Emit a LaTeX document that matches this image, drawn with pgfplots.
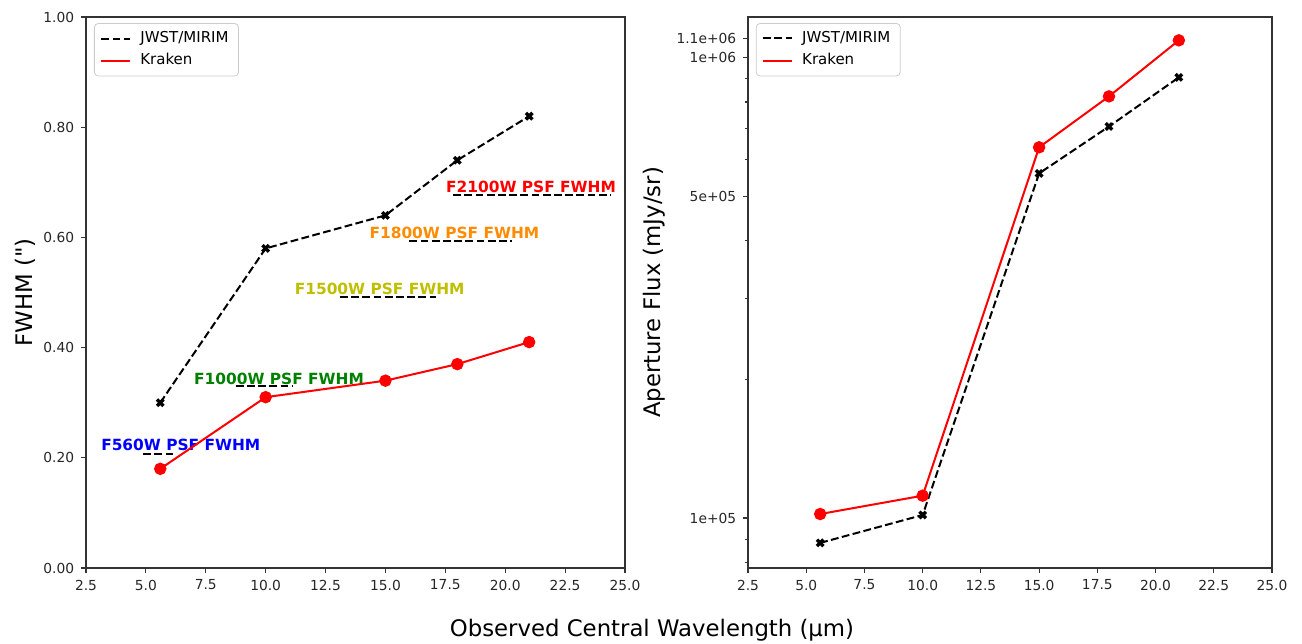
\documentclass[border=0pt]{standalone}
\usepackage{fontspec}
\setmainfont{DejaVu Sans}
\usepackage{pgfplots}
\pgfplotsset{compat=1.18}
\definecolor{mplorange}{HTML}{FF8C00}
\definecolor{mplolive}{rgb}{0.75,0.75,0}
\definecolor{mplgreen}{rgb}{0,0.5,0}

\pgfplotsset{
  common/.style={
    scale only axis,
    height=275.5pt,
    xmin=2.5, xmax=25,
    xtick={2.5,5,7.5,10,12.5,15,17.5,20,22.5,25},
    xticklabels={2.5,5.0,7.5,10.0,12.5,15.0,17.5,20.0,22.5,25.0},
    tick align=outside,
    tick pos=left,
    major tick length=2.4pt,
    minor tick length=1.4pt,
    tick style={black!80, line width=0.55pt},
    axis line style={black!80, line width=0.55pt},
    ticklabel style={font=\fontsize{6.9}{8}\selectfont, text=black!85},
    /pgf/number format/assume math mode=true,
    label style={font=\fontsize{11.4}{13}\selectfont},
    legend style={at={(0.0148,0.989)}, anchor=north west, draw=black!20,
      rounded corners=2pt, font=\fontsize{7.5}{9}\selectfont,
      /tikz/every odd column/.append style={column sep=2.5pt}},
    legend cell align=left,
    legend image code/.code={\draw[#1] (0pt,0pt) -- (14.5pt,0pt);},
  },
  jwst/.style={black, line width=1pt, dash pattern=on 3.9pt off 1.7pt,
    mark=x, mark size=2.3pt, mark options={solid, line width=1.7pt}},
  kraken/.style={red, line width=1pt, mark=*, mark size=2.6pt,
    mark options={solid, fill=red, draw=red}},
  psf/.style={black, line width=1pt, dash pattern=on 3.9pt off 1.7pt, forget plot},
}
\tikzset{ann/.style={anchor=west, inner sep=0pt, font=\bfseries\fontsize{7.7}{9.2}\selectfont}}

\begin{document}
\begin{tikzpicture}
\begin{axis}[common, at={(43pt,37.5pt)}, anchor=south west, width=269.5pt,
  ymin=0, ymax=1,
  ytick={0,0.2,0.4,0.6,0.8,1},
  yticklabels={0.00,0.20,0.40,0.60,0.80,1.00},
  ylabel={FWHM (\textquotedbl)},
  ylabel style={at={(axis description cs:-0.112,0.5)}, anchor=center}]
\addlegendimage{black, line width=1pt, dash pattern=on 3.9pt off 1.7pt}
\addlegendentry{JWST/MIRIM}
\addlegendimage{red, line width=1pt}
\addlegendentry{Kraken}
\addplot[psf] coordinates {(4.89,0.207) (6.29,0.207)};
\addplot[psf] coordinates {(8.75,0.331) (11.09,0.331)};
\addplot[psf] coordinates {(13.10,0.492) (17.10,0.492)};
\addplot[psf] coordinates {(16.00,0.594) (20.28,0.594)};
\addplot[psf] coordinates {(17.83,0.677) (24.41,0.677)};
\node[ann, text=blue] at (axis cs:3.12,0.223) {F560W PSF FWHM};
\node[ann, text=mplgreen] at (axis cs:7.0,0.344) {F1000W PSF FWHM};
\node[ann, text=mplolive] at (axis cs:11.2,0.506) {F1500W PSF FWHM};
\node[ann, text=mplorange] at (axis cs:14.32,0.609) {F1800W PSF FWHM};
\node[ann, text=red] at (axis cs:17.52,0.692) {F2100W PSF FWHM};
\addplot[jwst, forget plot] coordinates {(5.6,0.30) (10,0.58) (15,0.64) (18,0.74) (21,0.82)};
\addplot[kraken, forget plot] coordinates {(5.6,0.18) (10,0.31) (15,0.34) (18,0.37) (21,0.41)};
\end{axis}

\begin{axis}[common, at={(374pt,37.5pt)}, anchor=south west, width=262pt,
  ymode=log, ymin=7.79e4, ymax=1.224e6,
  ytick={1e5,5e5,1e6,1.1e6},
  yticklabels={1e+05,5e+05,1e+06,1.1e+06},
  minor ytick={8e4,9e4,2e5,3e5,4e5,6e5,7e5,8e5,9e5},
  ylabel={Aperture Flux (mJy/sr)},
  ylabel style={at={(axis description cs:-0.179,0.5)}, anchor=center}]
\addlegendimage{black, line width=1pt, dash pattern=on 3.9pt off 1.7pt}
\addlegendentry{JWST/MIRIM}
\addlegendimage{red, line width=1pt}
\addlegendentry{Kraken}
\addplot[jwst, forget plot] coordinates {(5.6,8.83e4) (10,1.015e5) (15,5.6e5) (18,7.08e5) (21,9.05e5)};
\addplot[kraken, forget plot] coordinates {(5.6,1.02e5) (10,1.118e5) (15,6.38e5) (18,8.23e5) (21,1.089e6)};
\end{axis}

\node[font=\fontsize{11.4}{13}\selectfont, anchor=center] at (326pt,6.5pt) {Observed Central Wavelength (µm)};
\pgfresetboundingbox
\path[use as bounding box] (0,0) rectangle (651pt,321.5pt);
\end{tikzpicture}
\end{document}
